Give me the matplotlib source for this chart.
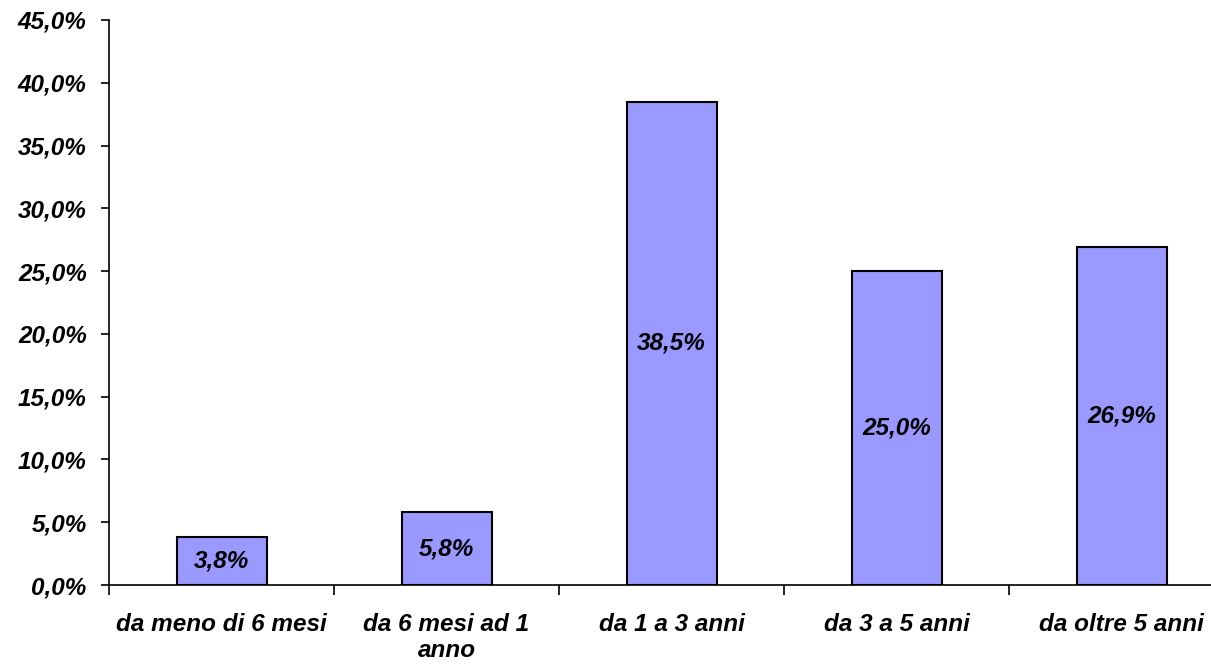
import matplotlib
matplotlib.use("Agg")
import matplotlib.pyplot as plt
import numpy as np

categories = ["da meno di 6 mesi", "da 6 mesi ad 1\nanno", "da 1 a 3 anni",
              "da 3 a 5 anni", "da oltre 5 anni"]
values = [3.8, 5.8, 38.5, 25.0, 26.9]
yticks = [0, 5, 10, 15, 20, 25, 30, 35, 40, 45]

plt.rcParams["font.family"] = ["Liberation Sans", "DejaVu Sans"]
font = dict(fontsize=17.5, fontweight="bold", fontstyle="italic")

fig = plt.figure(figsize=(12.11, 6.66), dpi=100)
# axis runs past the right edge of the canvas, as in the original
ax = fig.add_axes([109 / 1211, 81 / 666, 1125 / 1211, 565 / 666])

x = np.arange(len(values))
ax.bar(x, values, width=0.4, color="#9999FF", edgecolor="black", linewidth=1.5, zorder=2)
for xi, v in zip(x, values):
    ax.text(xi, v / 2, f"{v:.1f}%".replace(".", ","), ha="center", va="center", **font)

ax.set_xlim(-0.5, len(values) - 0.5)
ax.set_ylim(0, 45)
ax.set_yticks(yticks)
ax.set_yticklabels([f"{t:.1f}%".replace(".", ",") for t in yticks], **font)
ax.set_xticks(x)
ax.set_xticklabels(categories, linespacing=1.17, **font)
ax.set_xticks(np.arange(len(values) + 1) - 0.5, minor=True)
ax.tick_params(axis="x", which="major", length=0, pad=20)
ax.tick_params(axis="x", which="minor", length=7, width=1.2, direction="out")
ax.tick_params(axis="y", length=6, width=1.2, pad=10)
for s in ["top", "right"]:
    ax.spines[s].set_visible(False)
for s in ["left", "bottom"]:
    ax.spines[s].set_linewidth(1.2)

fig.savefig("out.png", dpi=100)
